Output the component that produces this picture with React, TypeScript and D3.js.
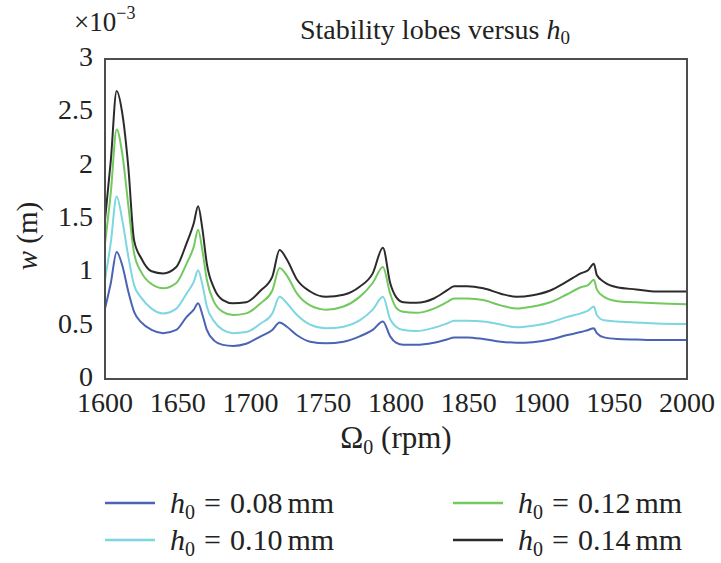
import React from "react";
import * as d3 from "d3";

const rpm = [1600,1604,1608,1612,1616,1620,1625,1632,1640,1649,1656,1661,1664,1667,1670,1675,1681,1688,1697,1707,1715,1720,1725,1732,1741,1752,1764,1775,1784,1791,1796,1800,1805,1814,1826,1835,1840,1849,1860,1872,1883,1894,1906,1917,1927,1932,1936,1938,1943,1952,1965,1979,2000];

const w008 = [0.66,0.90,1.19,1.06,0.82,0.63,0.53,0.46,0.43,0.46,0.58,0.65,0.71,0.60,0.46,0.36,0.32,0.31,0.33,0.40,0.46,0.53,0.49,0.41,0.35,0.335,0.35,0.40,0.46,0.54,0.40,0.34,0.32,0.32,0.34,0.37,0.39,0.39,0.375,0.35,0.34,0.345,0.37,0.41,0.44,0.46,0.475,0.43,0.39,0.375,0.37,0.365,0.365];
const w010 = [0.93,1.28,1.71,1.48,1.15,0.88,0.76,0.66,0.615,0.66,0.80,0.91,1.02,0.88,0.68,0.54,0.46,0.43,0.44,0.52,0.615,0.77,0.71,0.60,0.51,0.475,0.49,0.55,0.65,0.77,0.56,0.49,0.46,0.45,0.48,0.52,0.545,0.545,0.54,0.51,0.485,0.50,0.53,0.58,0.615,0.64,0.68,0.60,0.55,0.54,0.53,0.52,0.515];
const w012 = [1.27,1.75,2.34,2.10,1.63,1.18,1.00,0.89,0.85,0.90,1.08,1.24,1.40,1.20,0.93,0.72,0.63,0.60,0.615,0.71,0.83,1.04,0.97,0.80,0.69,0.65,0.68,0.77,0.90,1.05,0.80,0.67,0.63,0.62,0.66,0.72,0.755,0.755,0.74,0.69,0.66,0.68,0.72,0.79,0.86,0.88,0.93,0.84,0.77,0.73,0.72,0.71,0.70];
const w014 = [1.49,2.05,2.70,2.48,1.99,1.30,1.13,1.01,0.99,1.05,1.27,1.46,1.62,1.40,1.08,0.85,0.74,0.71,0.72,0.83,0.96,1.21,1.12,0.93,0.82,0.77,0.79,0.865,0.99,1.23,0.90,0.77,0.72,0.715,0.755,0.83,0.87,0.87,0.85,0.80,0.77,0.785,0.83,0.91,0.99,1.02,1.08,0.975,0.91,0.86,0.84,0.82,0.82];

const seriesLabels = ["0.08", "0.10", "0.12", "0.14"];
const seriesColors = ["#4a63b5", "#7dd6e0", "#72c95e", "#2b2b2b"];
const xTicks = [1600,1650,1700,1750,1800,1850,1900,1950,2000];
const yTicks = [0,0.5,1,1.5,2,2.5,3];

const W = 721, H = 563;
const L = 105, R = 687, T = 59, B = 379;
const FONT = "'Liberation Serif', 'Times New Roman', serif";

export default function App() {
  const x = d3.scaleLinear().domain([1600, 2000]).range([L, R]);
  const y = d3.scaleLinear().domain([0, 3]).range([B, T]);
  const line = d3.line<number>()
    .x((_, i) => x(rpm[i]))
    .y((d) => y(d))
    .curve(d3.curveMonotoneX);
  const series = [w008, w010, w012, w014];
  const legendPos = [
    { lx: 105, ly: 503 },
    { lx: 105, ly: 540 },
    { lx: 453, ly: 503 },
    { lx: 453, ly: 540 },
  ];
  return (
    <div style={{ position: "fixed", left: 0, top: 0 }}>
      <svg width={W} height={H} style={{ display: "block", background: "#fff", fontFamily: FONT }}>
        {/* header */}
        <text x={74} y={31} fontSize={27} fill="#222">
          ×10
          <tspan dy={-12} fontSize={18}>−3</tspan>
        </text>
        <text x={435} y={39} fontSize={28} textAnchor="middle" fill="#222">
          Stability lobes versus <tspan fontStyle="italic">h</tspan>
          <tspan dy={5} fontSize={19}>0</tspan>
        </text>

        {/* series */}
        {series.map((s, i) => (
          <path key={i} d={line(s) || ""} fill="none" stroke={seriesColors[i]} strokeWidth={2} strokeLinejoin="round" />
        ))}

        {/* frame */}
        <rect x={L} y={T} width={R - L} height={B - T} fill="none" stroke="#4d4d4d" strokeWidth={2} />

        {/* x tick labels */}
        {xTicks.map((t) => (
          <text key={t} x={x(t)} y={412} fontSize={28} textAnchor="middle" fill="#222">{t}</text>
        ))}
        {/* y tick labels */}
        {yTicks.map((t) => (
          <text key={t} x={93} y={y(t) + 7} fontSize={28} textAnchor="end" fill="#222">{t}</text>
        ))}

        {/* axis titles */}
        <text x={396} y={448} fontSize={31} textAnchor="middle" fill="#222">
          Ω<tspan dy={6} fontSize={20}>0</tspan>
          <tspan dy={-6}> (rpm)</tspan>
        </text>
        <text transform={`translate(37,236) rotate(-90)`} fontSize={29} textAnchor="middle" fill="#222">
          <tspan fontStyle="italic">w</tspan> (m)
        </text>

        {/* legend */}
        {series.map((_, i) => (
          <g key={i}>
            <line x1={legendPos[i].lx} x2={legendPos[i].lx + 50} y1={legendPos[i].ly} y2={legendPos[i].ly} stroke={seriesColors[i]} strokeWidth={2.5} />
            <text x={legendPos[i].lx + 65} y={legendPos[i].ly + 10} fontSize={30} fill="#222">
              <tspan fontStyle="italic">h</tspan>
              <tspan dy={6} fontSize={20}>0</tspan>
              <tspan dy={-6} dx={9}>=</tspan>
              <tspan dx={9}>{seriesLabels[i]}</tspan>
              <tspan dx={5}>mm</tspan>
            </text>
          </g>
        ))}
      </svg>
    </div>
  );
}
